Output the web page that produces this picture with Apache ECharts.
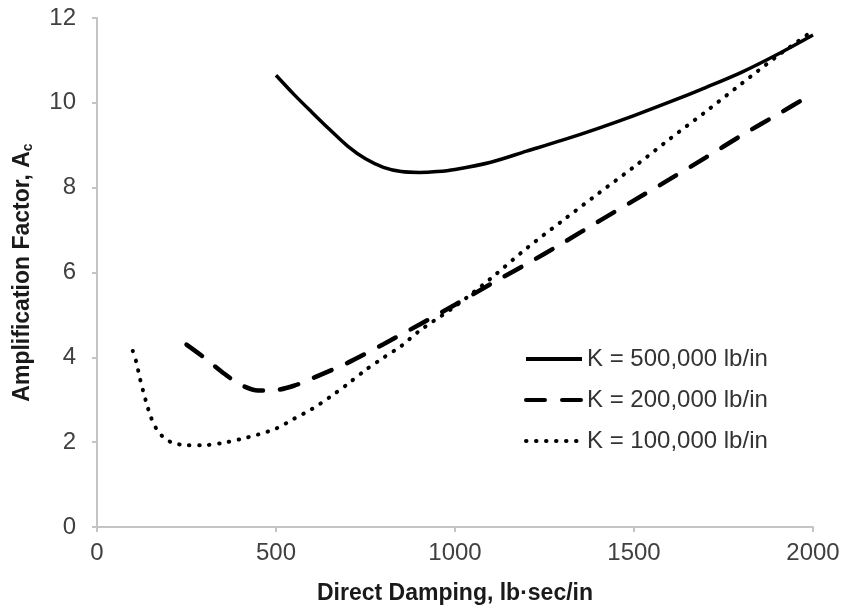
<!DOCTYPE html>
<html><head><meta charset="utf-8">
<script src="https://cdn.jsdelivr.net/npm/echarts@6/dist/echarts.min.js"></script>
<style>html,body{margin:0;padding:0;background:#fff}#c{width:847px;height:610px}</style>
</head><body><div id="c"></div>
<script>
var names = ['K = 500,000 lb/in', 'K = 200,000 lb/in', 'K = 100,000 lb/in'];
var solidX = [500,550,600,650,700,750,800,850,900,950,1000,1100,1200,1300,1400,1500,1600,1700,1800,1900,2000];
var solidY = [10.65,10.2,9.78,9.37,8.98,8.68,8.48,8.38,8.36,8.38,8.43,8.6,8.86,9.12,9.4,9.7,10.02,10.36,10.72,11.14,11.6];
var dashX = [250,300,350,400,450,500,550,600,700,800,900,1000,1100,1200,1300,1400,1500,1600,1700,1800,1900,2000];
var dashY = [4.3,3.99,3.65,3.36,3.22,3.23,3.33,3.5,3.87,4.31,4.77,5.24,5.73,6.2,6.69,7.2,7.7,8.2,8.71,9.23,9.72,10.22];
var dotX = [100,110,120,130,140,150,165,185,210,250,300,350,400,450,500,550,600,650,700,750,800,850,900,1000,1100,1200,1300,1400,1500,1600,1700,1800,1900,2000];
var dotY = [4.15,3.88,3.5,3.17,2.87,2.6,2.33,2.12,1.99,1.93,1.93,1.98,2.07,2.18,2.32,2.55,2.78,3.06,3.37,3.7,3.99,4.27,4.62,5.2,5.86,6.57,7.22,7.86,8.49,9.15,9.79,10.45,11.1,11.7];
var xTicks = [0,500,1000,1500,2000];
var yTicks = [0,2,4,6,8,10,12];

function pairs(xs, ys){ return xs.map(function(x,i){ return [x, ys[i]]; }); }
var FF = "'Liberation Sans', Arial, sans-serif";
var chart = echarts.init(document.getElementById('c'), null, {renderer:'canvas'});
chart.setOption({
  animation: false,
  backgroundColor: '#fff',
  grid: {left: 97, right: 34, top: 18, bottom: 82},
  legend: {
    orient: 'vertical', left: 519, top: 342, itemWidth: 56, itemHeight: 14, itemGap: 17,
    itemStyle: {opacity: 0},
    lineStyle: {width: 4},
    textStyle: {fontFamily: FF, fontSize: 24, color: '#333'},
    data: names
  },
  xAxis: {
    type: 'value', min: xTicks[0], max: xTicks[xTicks.length-1], interval: 500,
    name: 'Direct Damping, lb·sec/in', nameLocation: 'middle', nameGap: 55,
    nameTextStyle: {fontFamily: FF, fontSize: 23, fontWeight: 'bold', color: '#1a1a1a'},
    axisLine: {lineStyle: {color: '#c4c4c4', width: 2}},
    axisTick: {show: true, length: 5, lineStyle: {color: '#c4c4c4', width: 2}},
    axisLabel: {fontFamily: FF, fontSize: 24, color: '#404040', margin: 14,
      formatter: function(v){ return String(v); }},
    splitLine: {show: false}
  },
  yAxis: {
    type: 'value', min: yTicks[0], max: yTicks[yTicks.length-1], interval: 2,
    name: '{a|Amplification Factor, A}{s|c}', nameLocation: 'middle', nameGap: 62,
    nameTextStyle: {fontFamily: FF, fontSize: 23, fontWeight: 'bold', color: '#1a1a1a',
      rich: {a: {fontFamily: FF, fontSize: 23, fontWeight: 'bold', color: '#1a1a1a'},
             s: {fontFamily: FF, fontSize: 14, fontWeight: 'bold', color: '#1a1a1a', verticalAlign: 'bottom', padding: [10,0,0,0]}}},
    axisLine: {show: true, lineStyle: {color: '#c4c4c4', width: 2}},
    axisTick: {show: true, length: 5, lineStyle: {color: '#c4c4c4', width: 2}},
    axisLabel: {fontFamily: FF, fontSize: 24, color: '#404040', margin: 21},
    splitLine: {show: false}
  },
  series: [
    {name: names[0], type: 'line', data: pairs(solidX, solidY), smooth: 0.3, symbol: 'none',
     lineStyle: {color: '#000', width: 3.5}, itemStyle: {color: '#000', opacity: 0}},
    {name: names[1], type: 'line', data: pairs(dashX, dashY), smooth: 0.3, symbol: 'none',
     lineStyle: {color: '#000', width: 4.5, type: [19, 17], cap: 'round'}, itemStyle: {color: '#000', opacity: 0}},
    {name: names[2], type: 'line', data: pairs(dotX, dotY), smooth: 0.3, symbol: 'none',
     lineStyle: {color: '#000', width: 4, type: [0.5, 9.5], cap: 'round'}, itemStyle: {color: '#000', opacity: 0}}
  ]
});
</script></body></html>
